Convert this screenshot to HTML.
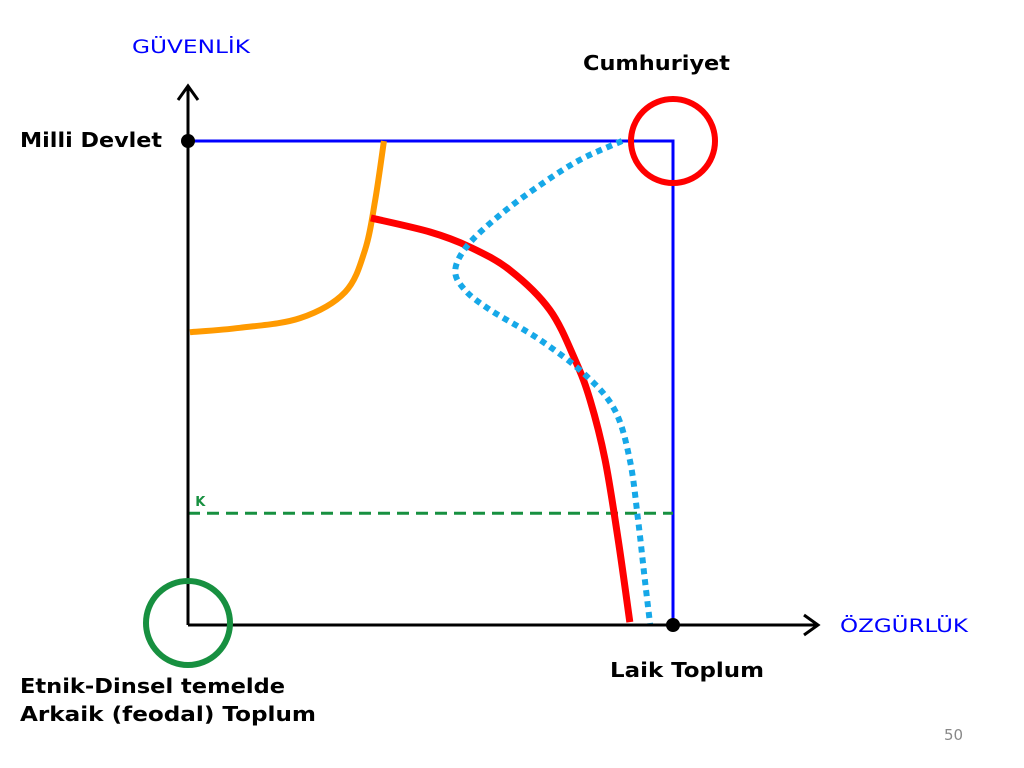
<!DOCTYPE html>
<html><head><meta charset="utf-8"><style>
body{margin:0;background:#fff}
svg{display:block}
text{font-family:"DejaVu Sans","Liberation Sans",sans-serif}
.b{font-weight:bold;font-size:20px;fill:#000}
</style></head><body>
<svg id="c" width="1024" height="768" xmlns="http://www.w3.org/2000/svg">
<text x="132" y="53" font-size="19" fill="#0000ff" textLength="118" lengthAdjust="spacingAndGlyphs">GÜVENLİK</text>
<text x="583" y="70" class="b" textLength="147" lengthAdjust="spacingAndGlyphs">Cumhuriyet</text>
<text x="20" y="147" class="b" textLength="142" lengthAdjust="spacingAndGlyphs">Milli Devlet</text>
<text x="840" y="632" font-size="19" fill="#0000ff" textLength="128" lengthAdjust="spacingAndGlyphs">ÖZGÜRLÜK</text>
<text x="610" y="677" class="b" textLength="154" lengthAdjust="spacingAndGlyphs">Laik Toplum</text>
<text x="20" y="693" class="b" textLength="265" lengthAdjust="spacingAndGlyphs">Etnik-Dinsel temelde</text>
<text x="20" y="721" class="b" textLength="296" lengthAdjust="spacingAndGlyphs">Arkaik (feodal) Toplum</text>
<text x="944" y="740" font-size="15" fill="#888" font-family="Liberation Sans">50</text>
<g id="plot"></g>
</svg>
<script>
const orangeX=[0.4,10.7,23.1,32.4,36.5,38.6,40.4];
const orangeY=[60.5,61.4,63.4,68.8,77.5,87.8,100];
const redX=[37.7,49.9,58.1,66.4,74.6,79.8,82.9,86,88.7,91.1];
const redY=[84.1,81.2,78.1,73.3,65.1,54.8,46.5,34.1,17.6,0.6];
const blueX=[89.5,80.8,72.6,64.3,57.7,55.1,57.1,62.3,72.6,81.9,88,91.1,92.8,94.2,95.3];
const blueY=[100,96.1,90.9,84.7,78.5,73.3,69.2,65.1,58.9,51.7,44.4,34.1,21.7,9.3,0];
const kLevel=[23.1];
const boxMax=[100];
const X=v=>188+4.85*v, Y=v=>625-4.84*v;
const g=document.getElementById('plot');
const NS='http://www.w3.org/2000/svg';
function mk(t,a){const e=document.createElementNS(NS,t);for(const k in a)e.setAttribute(k,a[k]);g.appendChild(e);return e;}
function path(xs,ys){const p=xs.map((x,i)=>[X(x),Y(ys[i])]);let d='M'+p[0][0]+','+p[0][1];
for(let i=0;i<p.length-1;i++){const p0=p[i-1]||p[i],p1=p[i],p2=p[i+1],p3=p[i+2]||p2;
d+=' C'+(p1[0]+(p2[0]-p0[0])/6)+','+(p1[1]+(p2[1]-p0[1])/6)+' '+(p2[0]-(p3[0]-p1[0])/6)+','+(p2[1]-(p3[1]-p1[1])/6)+' '+p2[0]+','+p2[1];}return d;}
let e;
e=mk('polyline',{points:`${X(0)},${Y(boxMax[0])} ${X(boxMax[0])},${Y(boxMax[0])} ${X(boxMax[0])},${Y(0)}`,fill:'none',stroke:'#0000ff','stroke-width':3});


e=mk('line',{x1:X(0),y1:Y(kLevel[0]),x2:X(100),y2:Y(kLevel[0]),stroke:'#179040','stroke-width':3,'stroke-dasharray':'12,7'});


e=mk('text',{x:X(1.5),y:Y(kLevel[0])-7,'font-size':13,'font-weight':'bold',fill:'#179040'});e.textContent='K';


e=mk('path',{d:path(orangeX,orangeY),fill:'none',stroke:'#ff9a00','stroke-width':6});


e=mk('path',{d:path(redX,redY),fill:'none',stroke:'#ff0000','stroke-width':7});


e=mk('path',{d:path(blueX,blueY),fill:'none',stroke:'#16a8e8','stroke-width':6,'stroke-dasharray':'6,5'});


e=mk('path',{d:'M188,625 V86 M178,100 L188,86 L198,100',fill:'none',stroke:'#000','stroke-width':3});


e=mk('path',{d:'M188,625 H818 M804,615 L818,625 L804,635',fill:'none',stroke:'#000','stroke-width':3});


e=mk('circle',{cx:X(0),cy:Y(100),r:7,fill:'#000'});


e=mk('circle',{cx:X(100),cy:Y(0),r:7,fill:'#000'});


e=mk('circle',{cx:X(100),cy:Y(100),r:42,fill:'none',stroke:'#ff0000','stroke-width':6});


e=mk('circle',{cx:X(0),cy:Y(0)-2,r:42,fill:'none',stroke:'#179040','stroke-width':6});


</script>
</body></html>
